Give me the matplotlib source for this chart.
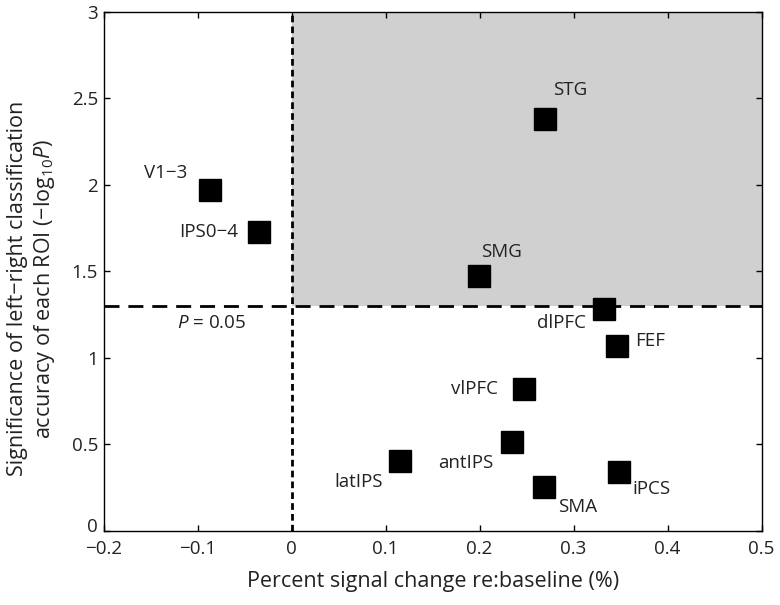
import matplotlib
matplotlib.use("Agg")
import matplotlib.pyplot as plt
import matplotlib.transforms as mtransforms

plt.rcParams['font.family'] = ['Open Sans', 'DejaVu Sans']
plt.rcParams['mathtext.fontset'] = 'custom'
plt.rcParams['mathtext.rm'] = 'Open Sans'
plt.rcParams['mathtext.it'] = 'Open Sans:italic'

# ROI data: percent signal change (x) vs -log10 P (y)
rois = ["V1\u22123", "IPS0\u22124", "STG", "SMG", "dlPFC", "FEF",
        "vlPFC", "antIPS", "latIPS", "SMA", "iPCS"]
signal_change = [-0.087, -0.035, 0.270, 0.199, 0.332, 0.346,
                 0.247, 0.234, 0.115, 0.268, 0.348]
significance = [1.97, 1.725, 2.38, 1.47, 1.28, 1.065,
                0.82, 0.515, 0.405, 0.25, 0.34]

p_thresh = 1.301  # -log10(0.05)

# label offsets in pixels (dx, dy, ha)
label_pos = {
    "V1\u22123": (-23, 17, 'right'),
    "IPS0\u22124": (-21, 0, 'right'),
    "STG": (8, 29, 'left'),
    "SMG": (2, 24, 'left'),
    "dlPFC": (-18, -14, 'right'),
    "FEF": (18, 5, 'left'),
    "vlPFC": (-26, 0, 'right'),
    "antIPS": (-18, -21, 'right'),
    "latIPS": (-17, -21, 'right'),
    "SMA": (15, -20, 'left'),
    "iPCS": (14, -17, 'left'),
}

fig = plt.figure(figsize=(7.8, 6.05), dpi=100)
ax = fig.add_axes([0.1327, 0.1228, 0.8438, 0.858])

ax.fill_between([0, 0.5], p_thresh, 3, color='#d0d0d0', lw=0, zorder=0)
ax.axvline(0, color='black', lw=2.0, dashes=(2.4, 1.5), zorder=1)
ax.axhline(p_thresh, color='black', lw=2.0, dashes=(5.4, 3.2), zorder=1)

ax.plot(signal_change, significance, 's', color='black', markersize=15.5,
        zorder=3)

for name, x, y in zip(rois, signal_change, significance):
    dx, dy, ha = label_pos[name]
    ax.annotate(name, (x, y), xytext=(dx, dy), textcoords='offset pixels',
                ha=ha, va='center', fontsize=13.5, color='#222222')

ax.text(-0.122, 1.20, "$\\it{P}$ = 0.05", ha='left', va='center',
        fontsize=13.5, color='#222222')

ax.set_xlim(-0.2, 0.5)
ax.set_ylim(0, 3)
ax.set_xticks([-0.2, -0.1, 0, 0.1, 0.2, 0.3, 0.4, 0.5])
ax.set_xticklabels(["\u22120.2", "\u22120.1", "0", "0.1", "0.2", "0.3", "0.4", "0.5"])
ax.set_yticks([0, 0.5, 1, 1.5, 2, 2.5, 3])
ax.set_yticklabels(["0", "0.5", "1", "1.5", "2", "2.5", "3"])
ax.tick_params(direction='in', top=True, right=True, length=4, width=1,
               labelsize=13.5, labelcolor='#222222')
ax.tick_params(axis='x', pad=7)
ax.tick_params(axis='y', pad=4)
for s in ax.spines.values():
    s.set_linewidth(1.0)

# nudge the y "0" label up a bit so it clears the "-0.2" label
lab0 = ax.get_yticklabels()[0]
lab0.set_transform(lab0.get_transform() +
                   mtransforms.ScaledTranslation(0, 4 / 72, fig.dpi_scale_trans))

ax.set_xlabel("Percent signal change re:baseline (%)", fontsize=15.5,
              labelpad=9, color='#222222')
ax.set_ylabel("Significance of left\u2212right classification\n"
              "accuracy of each ROI (\u2212log$_{10}$$\\it{P}$)",
              fontsize=15.5, color='#222222', linespacing=1.25)
ax.yaxis.set_label_coords(-0.07, 0.466)

fig.savefig("out.png", dpi=100)
